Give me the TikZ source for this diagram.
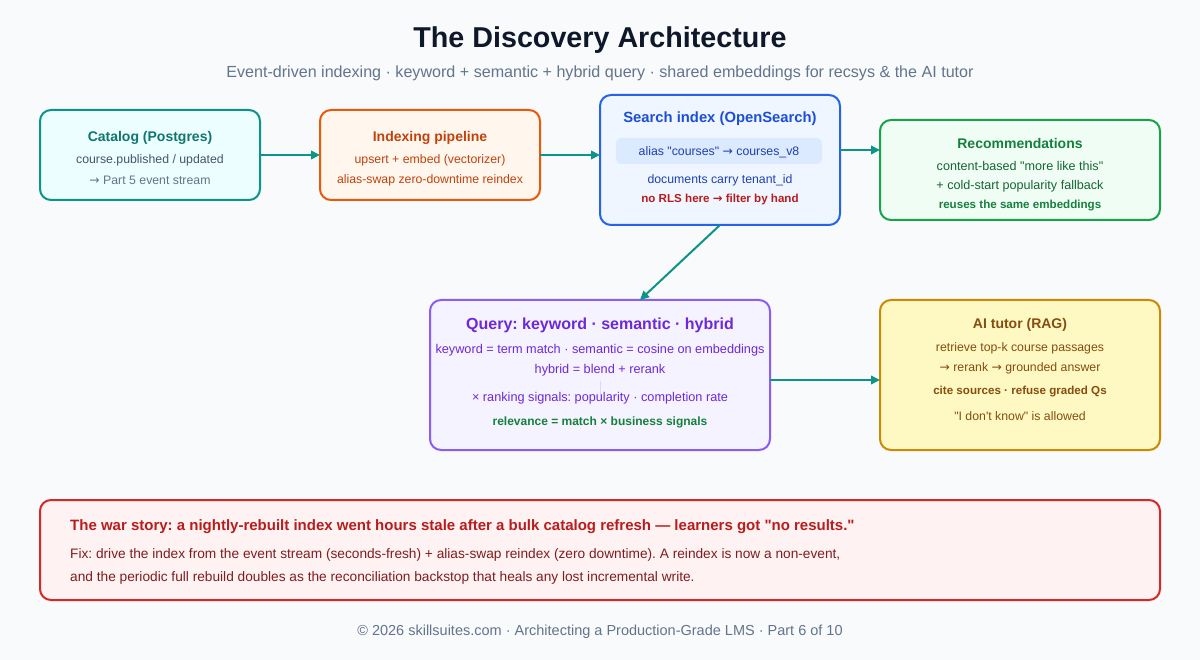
\documentclass[tikz,border=0pt]{standalone}
\usepackage{fontspec}
\setmainfont{Liberation Sans}[Ligatures=TeXOff]
\newfontfamily\arrf{DejaVu Sans}
\newcommand\arw{{\arrf →}}
\usetikzlibrary{arrows.meta,calc}
\definecolor{bg}{HTML}{F8FAFC}
\definecolor{ink}{HTML}{0F172A}
\definecolor{muted}{HTML}{64748B}
\definecolor{slate}{HTML}{475569}
\definecolor{arrowc}{HTML}{0D9488}
\definecolor{catB}{HTML}{0D9488}\definecolor{catF}{HTML}{ECFEFF}\definecolor{catT}{HTML}{0F766E}
\definecolor{idxB}{HTML}{EA580C}\definecolor{idxF}{HTML}{FFF7ED}\definecolor{idxT}{HTML}{C2410C}
\definecolor{srcB}{HTML}{2563EB}\definecolor{srcF}{HTML}{EFF6FF}\definecolor{srcT}{HTML}{1D4ED8}\definecolor{srcI}{HTML}{DBEAFE}\definecolor{srcD}{HTML}{1E40AF}
\definecolor{recB}{HTML}{16A34A}\definecolor{recF}{HTML}{F0FDF4}\definecolor{recT}{HTML}{15803D}\definecolor{recD}{HTML}{166534}
\definecolor{qB}{HTML}{8B5CF6}\definecolor{qF}{HTML}{F5F3FF}\definecolor{qT}{HTML}{6D28D9}\definecolor{qL}{HTML}{DDD6FE}
\definecolor{aiB}{HTML}{CA8A04}\definecolor{aiF}{HTML}{FEF9C3}\definecolor{aiT}{HTML}{854D0E}
\definecolor{warB}{HTML}{DC2626}\definecolor{warF}{HTML}{FEF2F2}\definecolor{warT}{HTML}{B91C1C}\definecolor{warD}{HTML}{7F1D1D}
\definecolor{red}{HTML}{B91C1C}
\tikzset{
  box/.style={draw, rounded corners=11pt, line width=2pt, inner sep=0pt, outer sep=0pt},
  ttl/.style={font=\fontsize{14}{16}\selectfont\bfseries, inner sep=0pt},
  bdy/.style={font=\fontsize{12.3}{14}\selectfont, inner sep=0pt},
  bdyb/.style={font=\fontsize{11.6}{14}\selectfont\bfseries, inner sep=0pt},
  conn/.style={draw=arrowc, line width=2pt, -{Triangle[length=9pt,width=8.5pt]}}
}
\frenchspacing
\begin{document}
\begin{tikzpicture}[x=1pt,y=-1pt]
\useasboundingbox (0,0) rectangle (1200,660);
\fill[bg] (0,0) rectangle (1200,660);

% title
\node[inner sep=0pt, font=\fontsize{28.7}{32}\selectfont\bfseries, text=ink] (title) at (600,40) {The Discovery Architecture};
\node[inner sep=0pt, font=\fontsize{16.1}{19}\selectfont, text=muted] (subtitle) at (600,73.5) {Event-driven indexing · keyword + semantic + hybrid query · shared embeddings for recsys \& the AI tutor};

% catalog
\node[box, draw=catB, fill=catF, minimum width=220pt, minimum height=90pt] (catalog) at (150,155) {};
\node[ttl, text=catT] (catT) at (150,138) {Catalog (Postgres)};
\node[bdy, text=slate] (cat1) at (150,160) {course.published / updated};
\node[bdy, text=muted] (cat2) at (150,180) {\arw{} Part 5 event stream};

% indexing
\node[box, draw=idxB, fill=idxF, minimum width=220pt, minimum height=90pt] (indexing) at (430,155) {};
\node[ttl, text=idxT] (idxTt) at (430,138) {Indexing pipeline};
\node[bdy, text=idxT] (idx1) at (430,160) {upsert + embed (vectorizer)};
\node[bdy, text=idxT] (idx2) at (430,180) {alias-swap zero-downtime reindex};

% search
\node[box, draw=srcB, fill=srcF, minimum width=240pt, minimum height=130pt] (search) at (720,160) {};
\node[ttl, font=\fontsize{14.8}{17}\selectfont\bfseries, text=srcT] (srcTt) at (720,119) {Search index (OpenSearch)};
\node[fill=srcI, rounded corners=5pt, minimum width=206pt, minimum height=26pt, inner sep=0pt] (alias) at (719,151) {};
\node[bdy, text=srcD] (aliasT) at (719,152) {alias "courses" \arw{} courses\_v8};
\node[bdy, text=srcD] (src1) at (720,180) {documents carry tenant\_id};
\node[bdyb, text=red] (src2) at (720,200) {no RLS here \arw{} filter by hand};

% recommendations
\node[box, draw=recB, fill=recF, minimum width=280pt, minimum height=100pt] (recs) at (1020,170) {};
\node[ttl, text=recT] (recTt) at (1020,143) {Recommendations};
\node[bdy, font=\fontsize{12.6}{14}\selectfont, text=recD] (rec1) at (1020,166) {content-based "more like this"};
\node[bdy, font=\fontsize{12.6}{14}\selectfont, text=recD] (rec2) at (1020,186) {+ cold-start popularity fallback};
\node[bdyb, text=recT] (rec3) at (1020,206) {reuses the same embeddings};

% query
\node[box, draw=qB, fill=qF, minimum width=340pt, minimum height=150pt] (query) at (600,375) {};
\node[ttl, font=\fontsize{16}{18}\selectfont\bfseries, text=qT] (qTt) at (600,325) {Query: keyword · semantic · hybrid};
\node[bdy, font=\fontsize{12.7}{14}\selectfont, text=qT] (q1) at (600,350) {keyword = term match · semantic = cosine on embeddings};
\node[bdy, font=\fontsize{12.7}{14}\selectfont, text=qT] (q2) at (600,370) {hybrid = blend + rerank};
\draw[qL, line width=0.8pt] (600,381) coordinate (qa) -- (600,396) coordinate (qb);
\node[bdy, font=\fontsize{12.7}{14}\selectfont, text=qT] (q3) at (600,398) {× ranking signals: popularity · completion rate};
\node[bdyb, font=\fontsize{12}{14}\selectfont\bfseries, text=recT] (q4) at (600,422) {relevance = match × business signals};

% AI tutor
\node[box, draw=aiB, fill=aiF, minimum width=280pt, minimum height=150pt] (ai) at (1020,375) {};
\node[ttl, text=aiT] (aiTt) at (1020,325) {AI tutor (RAG)};
\node[bdy, text=aiT] (ai1) at (1020,348) {retrieve top-k course passages};
\node[bdy, text=aiT] (ai2) at (1020,368) {\arw{} rerank \arw{} grounded answer};
\node[bdyb, text=aiT] (ai3) at (1020,392) {cite sources · refuse graded Qs};
\node[bdy, text=aiT] (ai4) at (1020,416) {"I don't know" is allowed};

% war story
\node[box, draw=warB, fill=warF, minimum width=1120pt, minimum height=100pt] (war) at (600,550) {};
\node[ttl, font=\fontsize{15}{17}\selectfont\bfseries, anchor=west, text=warT] (warTt) at (70,527) {The war story: a nightly-rebuilt index went hours stale after a bulk catalog refresh — learners got "no results."};
\node[bdy, font=\fontsize{13.7}{15}\selectfont, anchor=west, text=warD] (war1) at (70,555) {Fix: drive the index from the event stream (seconds-fresh) + alias-swap reindex (zero downtime). A reindex is now a non-event,};
\node[bdy, font=\fontsize{13.7}{15}\selectfont, anchor=west, text=warD] (war2) at (70,578) {and the periodic full rebuild doubles as the reconciliation backstop that heals any lost incremental write.};

% footer
\node[inner sep=0pt, font=\fontsize{14.5}{17}\selectfont, text=muted] (footer) at (600,632) {© 2026 skillsuites.com · Architecting a Production-Grade LMS · Part 6 of 10};

% connectors
\draw[conn] (catalog.east) -- (indexing.west);
\draw[conn] ($(indexing.east)$) -- ($(search.west)+(0,-5)$);
\draw[conn] ($(search.east)+(0,-10)$) -- ($(recs.west)+(0,-20)$);
\draw[conn] ($(search.south)$) -- ($(query.north)+(40,0)$);
\draw[conn] ($(query.east)+(0,5)$) -- ($(ai.west)+(0,5)$);
\end{tikzpicture}
\end{document}
